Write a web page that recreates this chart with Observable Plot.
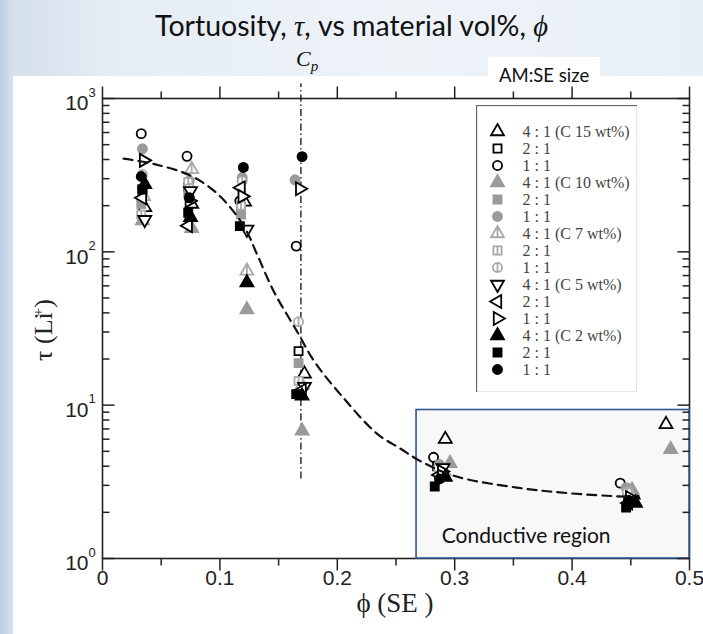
<!DOCTYPE html>
<html><head><meta charset="utf-8">
<script src="https://cdn.jsdelivr.net/npm/d3@7"></script>
<script src="https://cdn.jsdelivr.net/npm/@observablehq/plot@0.6"></script>
<style>
body{margin:0;}
#wrap{position:relative;width:703px;height:634px;overflow:hidden;
 background:linear-gradient(90deg,#bccfe3 0px,#d4e0ed 12px,#e6edf5 120px,#eef3f8 400px,#e8eff6 703px);}
#white{position:absolute;left:13px;top:76px;right:0;bottom:0;background:#fff;}
#title{position:absolute;top:9px;left:0;width:703px;text-align:center;font:28.5px Lato,'Open Sans',sans-serif;color:#111;line-height:32px;}
.m{font-family:'Liberation Serif',serif;font-style:italic;}
#cp{position:absolute;left:296px;top:47px;font:italic 22px 'Liberation Serif',serif;color:#111;line-height:24px;}
#cp sub{font-size:15px;}
#amse{position:absolute;left:488px;top:57px;width:112px;height:36px;background:#fff;font:18.5px Lato,sans-serif;color:#111;box-sizing:border-box;padding:7px 0 0 11px;}
#chart{position:absolute;left:0;top:0;}
#legend{position:absolute;left:476px;top:105px;background:#fff;}
#ylab{position:absolute;left:44px;top:330px;transform:translate(-50%,-50%) rotate(-90deg);font:26px 'Liberation Serif',serif;color:#222;white-space:nowrap;}
#ylab .sp{position:relative;top:-0.6em;font-size:15px;margin-left:-4px;}
#xlab{position:absolute;left:395px;top:588px;transform:translateX(-50%);font:27px 'Liberation Serif',serif;color:#222;white-space:nowrap;}
</style></head>
<body>
<div id="wrap">
 <div id="white"></div>
 <div id="title">Tortuosity, <span class="m">τ</span>, vs material vol%, <span class="m">ϕ</span></div>
 <div id="cp">C<sub>p</sub></div>
 <div id="amse">AM:SE size</div>
 <div id="chart"></div>
 <div id="legend"></div>
 <div id="ylab">τ (Li<span class="sp">+</span>)</div>
 <div id="xlab">ϕ (SE )</div>
</div>
<script>
// ---------- data ----------
const xTicks = [0, 0.1, 0.2, 0.3, 0.4, 0.5];
const xTickLabels = ["0", "0.1", "0.2", "0.3", "0.4", "0.5"];
const xMinorTicks = [0.05, 0.15, 0.25, 0.35, 0.45];
const yTicks = [1, 10, 100, 1000];
const yTickExponents = ["0", "1", "2", "3"];
const yMinorTicks = [2,3,4,5,6,7,8,9,20,30,40,50,60,70,80,90,200,300,400,500,600,700,800,900];

const legendLabels = ["4 : 1 (C 15 wt%)","2 : 1","1 : 1","4 : 1 (C 10 wt%)","2 : 1","1 : 1",
  "4 : 1 (C 7 wt%)","2 : 1","1 : 1","4 : 1 (C 5 wt%)","2 : 1","1 : 1","4 : 1 (C 2 wt%)","2 : 1","1 : 1"];

// [phi, tau] per series
const c15_41 = [[0.036,195],[0.076,205],[0.121,212],[0.172,16],[0.292,6.0],[0.452,2.6],[0.480,7.5]];
const c15_21 = [[0.034,255],[0.073,265],[0.118,190],[0.167,22.5],[0.285,4.0],[0.447,2.7]];
const c15_11 = [[0.033,590],[0.072,420],[0.117,215],[0.165,109],[0.282,4.57],[0.441,3.1]];
const c10_41 = [[0.034,160],[0.076,142],[0.123,42],[0.170,6.8],[0.296,4.18],[0.451,2.8],[0.484,5.15]];
const c10_21 = [[0.033,205],[0.073,240],[0.118,175],[0.167,18.8],[0.288,3.6],[0.447,2.75]];
const c10_11 = [[0.034,470],[0.074,290],[0.119,305],[0.164,295],[0.287,4.1],[0.446,2.9]];
const c7_41  = [[0.035,230],[0.076,345],[0.123,75],[0.170,13.5],[0.291,3.7],[0.450,2.6]];
const c7_21  = [[0.033,175],[0.073,285],[0.118,200],[0.167,14.4],[0.287,3.4],[0.448,2.5]];
const c7_11  = [[0.034,320],[0.074,260],[0.119,290],[0.167,35],[0.286,3.9],[0.447,2.7]];
const c5_41  = [[0.036,162],[0.075,250],[0.123,140],[0.172,13.2],[0.290,3.9],[0.451,2.4]];
const c5_21  = [[0.034,225],[0.073,148],[0.118,262],[0.170,12.5],[0.287,3.5],[0.448,2.3]];
const c5_11  = [[0.035,395],[0.074,215],[0.119,230],[0.168,258],[0.289,3.7],[0.449,2.5]];
const c2_41  = [[0.036,275],[0.075,168],[0.123,63],[0.170,11.5],[0.292,3.4],[0.454,2.3]];
const c2_21  = [[0.034,255],[0.073,180],[0.117,147],[0.165,11.8],[0.283,2.95],[0.446,2.15]];
const c2_11  = [[0.033,310],[0.074,225],[0.120,355],[0.170,418],[0.287,3.3],[0.448,2.4]];
const seriesData = [c15_41,c15_21,c15_11,c10_41,c10_21,c10_11,c7_41,c7_21,c7_11,c5_41,c5_21,c5_11,c2_41,c2_21,c2_11];

// dashed guide curve
const trendPhi = [0.018,0.045,0.075,0.095,0.110,0.122,0.132,0.146,0.166,0.180,0.205,0.234,0.254,0.270,0.300,0.353,0.396,0.440,0.452];
const trendTau = [405,372,314,250,190,140,95,55,30,19.5,11.2,6.5,5.2,4.35,3.45,2.9,2.67,2.54,2.52];
const cpPhi = 0.169;

// ---------- symbols ----------
const S3 = Math.sqrt(3);
const triH = s => -Math.sqrt(s / (S3 * 3));
const triUp = {draw(c,s){const y=triH(s);c.moveTo(0,2*y);c.lineTo(-S3*y,-y);c.lineTo(S3*y,-y);c.closePath();}};
const triDown = {draw(c,s){const y=triH(s);c.moveTo(0,-2*y);c.lineTo(-S3*y,y);c.lineTo(S3*y,y);c.closePath();}};
const triLeft = {draw(c,s){const y=triH(s);c.moveTo(2*y,0);c.lineTo(-y,-S3*y);c.lineTo(-y,S3*y);c.closePath();}};
const triRight = {draw(c,s){const y=triH(s);c.moveTo(-2*y,0);c.lineTo(y,-S3*y);c.lineTo(y,S3*y);c.closePath();}};
const square = {draw(c,s){const w=Math.sqrt(s)*0.95;c.rect(-w/2,-w/2,w,w);}};
const circle = {draw(c,s){const r=Math.sqrt(s/Math.PI)*0.95;c.moveTo(r,0);c.arc(0,0,r,0,2*Math.PI);}};
const triUpLine = {draw(c,s){triUp.draw(c,s);const y=triH(s);c.moveTo(0,2*y);c.lineTo(0,-y);}};
const squareLine = {draw(c,s){square.draw(c,s);const w=Math.sqrt(s)*0.95;c.moveTo(0,-w/2);c.lineTo(0,w/2);}};
const circleLine = {draw(c,s){circle.draw(c,s);const r=Math.sqrt(s/Math.PI)*0.95;c.moveTo(0,-r);c.lineTo(0,r);}};
const gray = "#9a9a9a", lgray = "#a8a8a8";
const styles = [
  {symbol:triUp, fill:"white", stroke:"#000"},
  {symbol:square, fill:"white", stroke:"#000"},
  {symbol:circle, fill:"white", stroke:"#000"},
  {symbol:triUp, fill:gray, stroke:gray},
  {symbol:square, fill:gray, stroke:gray},
  {symbol:circle, fill:gray, stroke:gray},
  {symbol:triUpLine, fill:"white", stroke:lgray},
  {symbol:squareLine, fill:"white", stroke:lgray},
  {symbol:circleLine, fill:"white", stroke:lgray},
  {symbol:triDown, fill:"white", stroke:"#000"},
  {symbol:triLeft, fill:"white", stroke:"#000"},
  {symbol:triRight, fill:"white", stroke:"#000"},
  {symbol:triUp, fill:"#000", stroke:"#000"},
  {symbol:square, fill:"#000", stroke:"#000"},
  {symbol:circle, fill:"#000", stroke:"#000"}
];
const vline = (a,b) => ({draw(c){c.moveTo(0,a);c.lineTo(0,b);}});
const hline = (a,b) => ({draw(c){c.moveTo(a,0);c.lineTo(b,0);}});
const tickStyle = {stroke:"#222", strokeWidth:1.5, fill:"none", r:1};

// ---------- main chart ----------
const trend = trendPhi.map((p,i) => ({phi:p, tau:trendTau[i]}));
const pointMarks = seriesData.map((pts,i) => Plot.dot(pts, {x:d=>d[0], y:d=>d[1], r:4.8, strokeWidth:1.8, ...styles[i]}));
const font = "Liberation Sans, Arial, sans-serif";

const chart = Plot.plot({
  width:703, height:634,
  marginLeft:102, marginRight:14, marginTop:98, marginBottom:76,
  style:{background:"transparent", overflow:"visible"},
  x:{domain:[0,0.5], axis:null},
  y:{type:"log", domain:[1,1000], axis:null},
  marks:[
    Plot.frame({stroke:"#222", strokeWidth:1.6}),
    Plot.rect([0], {x1:()=>0.2675, x2:()=>0.5, y1:()=>1, y2:()=>9.3, fill:"#f8f8f8", stroke:"#2f5597", strokeWidth:1.6}),
    Plot.text(["Conductive region"], {x:()=>0.289, y:()=>1.27, text:d=>d, textAnchor:"start", lineAnchor:"bottom", fontSize:21, fontFamily:"Lato, sans-serif", fill:"#111"}),
    // x ticks (outward), bottom and top
    Plot.dot(xTicks, {x:d=>d, frameAnchor:"bottom", symbol:vline(0,12), ...tickStyle}),
    Plot.dot(xMinorTicks, {x:d=>d, frameAnchor:"bottom", symbol:vline(0,7), ...tickStyle}),
    Plot.dot(xTicks, {x:d=>d, frameAnchor:"top", symbol:vline(0,-12), ...tickStyle}),
    Plot.dot(xMinorTicks, {x:d=>d, frameAnchor:"top", symbol:vline(0,-7), ...tickStyle}),
    // y ticks (inward), left and right
    Plot.dot(yTicks, {y:d=>d, frameAnchor:"left", symbol:hline(0,12), ...tickStyle}),
    Plot.dot(yMinorTicks, {y:d=>d, frameAnchor:"left", symbol:hline(0,7), ...tickStyle}),
    Plot.dot(yTicks, {y:d=>d, frameAnchor:"right", symbol:hline(0,-12), ...tickStyle}),
    Plot.dot(yMinorTicks, {y:d=>d, frameAnchor:"right", symbol:hline(0,-7), ...tickStyle}),
    // tick labels
    Plot.text(xTicks, {x:d=>d, text:(d,i)=>xTickLabels[i], frameAnchor:"bottom", dy:26, fontSize:21, fontFamily:font, fill:"#222"}),
    Plot.text(yTicks, {y:d=>d, text:()=>"10", frameAnchor:"left", textAnchor:"end", dx:-14, dy:5, fontSize:21, fontFamily:font, fill:"#222"}),
    Plot.text(yTicks, {y:d=>d, text:(d,i)=>yTickExponents[i], frameAnchor:"left", textAnchor:"start", dx:-14, dy:-6, fontSize:13, fontFamily:font, fill:"#222"}),
    // Cp line
    Plot.ruleX([cpPhi], {x:d=>d, y1:3.3, y2:1250, stroke:"#111", strokeWidth:1.3, strokeDasharray:"7,3,1.5,3"}),
    ...pointMarks,
    Plot.line(trend, {x:"phi", y:"tau", curve:"catmull-rom", stroke:"#111", strokeWidth:2.2, strokeDasharray:"9,6"})
  ]
});
document.getElementById("chart").append(chart);

// ---------- legend ----------
const legendItems = legendLabels.map((label,i) => ({i, label}));
const legend = Plot.plot({
  width:161, height:287, margin:0,
  style:{background:"#fff"},
  x:{domain:[0,161], axis:null},
  y:{type:"point", domain:d3.range(legendLabels.length), range:[17,272], axis:null},
  marks:[
    Plot.frame({stroke:"#666", strokeWidth:1.3}),
    ...legendItems.map((it,i) => Plot.dot([it], {x:()=>21, y:"i", r:4.8, strokeWidth:1.8, ...styles[i]})),
    Plot.text(legendItems, {x:()=>46, y:"i", text:"label", textAnchor:"start", fontSize:16, fontFamily:"Liberation Serif, serif", fill:"#444"})
  ]
});
document.getElementById("legend").append(legend);
</script>
</body></html>
